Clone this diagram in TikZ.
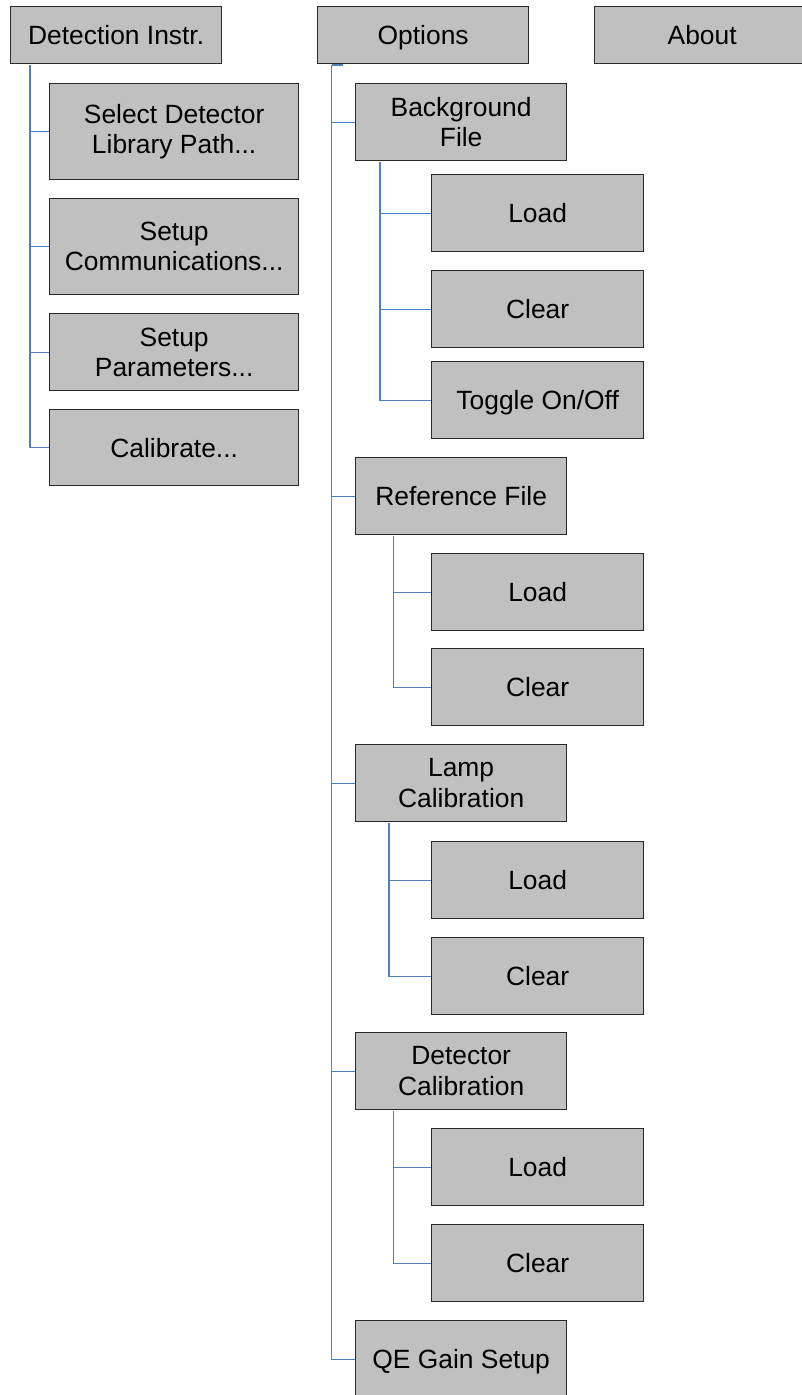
\documentclass[tikz,border=0pt]{standalone}
\usepackage{fontspec}
\setmainfont{Liberation Sans}
\definecolor{boxfill}{RGB}{192,192,192}
\definecolor{boxline}{RGB}{40,40,40}
\definecolor{conncol}{RGB}{79,129,189}
\begin{document}
\begin{tikzpicture}[x=1pt,y=-1pt,
  menubox/.style={draw=boxline,fill=boxfill,line width=1.3pt,anchor=north west,
    align=center,inner sep=0pt,font=\fontsize{26.4}{30.4}\selectfont},
  oneline/.style={text height=19pt,text depth=0pt},
  top/.style={menubox,oneline,minimum width=211pt,minimum height=57pt},
  lvla/.style={menubox,minimum width=249pt},
  lvlb/.style={menubox,minimum width=211pt,minimum height=77pt},
  lvlc/.style={menubox,oneline,minimum width=212pt,minimum height=77pt},
  conn/.style={draw=conncol,line width=1.2pt}]
\useasboundingbox (0,0) rectangle (801,1395);
% top level
\node[top] (det) at (10,6) {Detection Instr.};
\node[top] (opt) at (317,6) {Options};
\node[top,minimum width=215pt] (about) at (594,6) {About};
% Detection Instr. children
\node[lvla,minimum height=96pt] (sel) at (49,83) {Select Detector\\Library Path...};
\node[lvla,minimum height=96pt] (comm) at (49,198) {Setup\\Communications...};
\node[lvla,minimum height=77pt] (par) at (49,313) {Setup\\Parameters...};
\node[lvla,oneline,minimum height=76pt] (cal) at (49,409) {Calibrate...};
% Options children
\node[lvlb] (bg) at (355,83) {Background\\File};
\node[lvlb,oneline] (ref) at (355,457) {Reference File};
\node[lvlb] (lamp) at (355,744) {Lamp\\Calibration};
\node[lvlb] (detc) at (355,1032) {Detector\\Calibration};
\node[lvlb,oneline] (qe) at (355,1320) {QE Gain Setup};
% grandchildren
\node[lvlc] (bgl) at (431,174) {Load};
\node[lvlc] (bgc) at (431,270) {Clear};
\node[lvlc] (bgt) at (431,361) {Toggle On/Off};
\node[lvlc] (refl) at (431,553) {Load};
\node[lvlc] (refc) at (431,648) {Clear};
\node[lvlc] (laml) at (431,841) {Load};
\node[lvlc] (lamc) at (431,937) {Clear};
\node[lvlc] (dcl) at (431,1128) {Load};
\node[lvlc] (dcc) at (431,1224) {Clear};
% connector origins
\coordinate (detx) at ([xshift=20pt,yshift=-0.7pt]det.south west);
\coordinate (optx) at ([xshift=14.5pt,yshift=-0.7pt]opt.south west);
\coordinate (opts) at ([xshift=26pt,yshift=-0.7pt]opt.south west);
\coordinate (bgx) at ([xshift=25pt,yshift=-0.7pt]bg.south west);
\coordinate (refx) at ([xshift=38.5pt,yshift=-0.7pt]ref.south west);
\coordinate (lampx) at ([xshift=34pt,yshift=-0.7pt]lamp.south west);
\coordinate (detcx) at ([xshift=38.5pt,yshift=-0.7pt]detc.south west);
% connectors
\foreach \c in {sel,comm,par,cal} \draw[conn] (detx) |- (\c.west);
\draw[conn] (opts) -- (optx);
\foreach \c in {bg,ref,lamp,detc,qe} \draw[conn] (optx) |- (\c.west);
\foreach \c in {bgl,bgc,bgt} \draw[conn] (bgx) |- (\c.west);
\foreach \c in {refl,refc} \draw[conn] (refx) |- (\c.west);
\foreach \c in {laml,lamc} \draw[conn] (lampx) |- (\c.west);
\foreach \c in {dcl,dcc} \draw[conn] (detcx) |- (\c.west);
\end{tikzpicture}
\end{document}
